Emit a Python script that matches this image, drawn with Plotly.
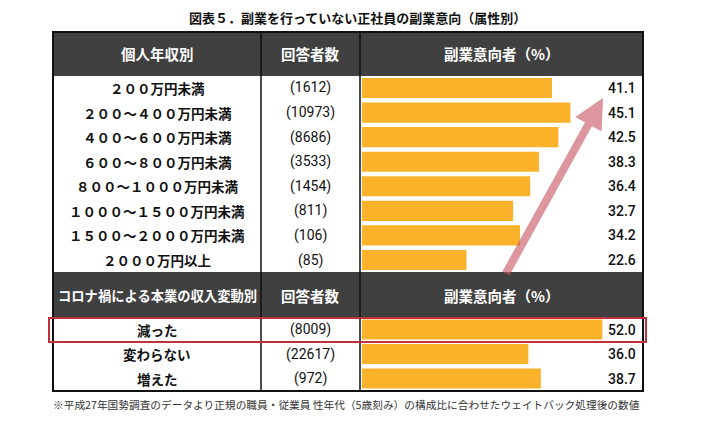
import plotly.graph_objects as go

W, H = 714, 421
FONT = "Noto Sans CJK JP"
NUMFONT = "Roboto, Noto Sans CJK JP"

title = "図表５．副業を行っていない正社員の副業意向（属性別）"
header1 = ["個人年収別", "回答者数", "副業意向者（%）"]
header2 = ["コロナ禍による本業の収入変動別", "回答者数", "副業意向者（%）"]

income_labels = ["２００万円未満", "２００～４００万円未満", "４００～６００万円未満",
                 "６００～８００万円未満", "８００～１０００万円未満", "１０００～１５００万円未満",
                 "１５００～２０００万円未満", "２０００万円以上"]
income_counts = [1612, 10973, 8686, 3533, 1454, 811, 106, 85]
income_values = [41.1, 45.1, 42.5, 38.3, 36.4, 32.7, 34.2, 22.6]

corona_labels = ["減った", "変わらない", "増えた"]
corona_counts = [8009, 22617, 972]
corona_values = [52.0, 36.0, 38.7]

footnote = "※平成27年国勢調査のデータより正規の職員・従業員 性年代（5歳刻み）の構成比に合わせたウェイトバック処理後の数値"


def px(p):
    return p / W


def py(p):
    return 1 - p / H


L, C1, C2, R = 53, 261, 360, 643
BAR0 = 362
BAR_COLOR = "#FBB22B"

fig = go.Figure()
fig.add_trace(go.Bar(x=income_values, y=income_labels, orientation="h",
                     marker=dict(color=BAR_COLOR, line=dict(width=0)),
                     xaxis="x", yaxis="y", hoverinfo="skip", showlegend=False))
fig.add_trace(go.Bar(x=corona_values, y=corona_labels, orientation="h",
                     marker=dict(color=BAR_COLOR, line=dict(width=0)),
                     xaxis="x2", yaxis="y2", hoverinfo="skip", showlegend=False))

shapes = []
for top, bot in [(32, 76), (272, 317)]:
    shapes.append(dict(type="rect", xref="paper", yref="paper",
                       x0=px(L), x1=px(R), y0=py(bot), y1=py(top),
                       fillcolor="#404040", line=dict(width=0), layer="below"))
for xx in [C1, C2]:
    shapes.append(dict(type="line", xref="paper", yref="paper",
                       x0=px(xx), x1=px(xx), y0=py(391), y1=py(32),
                       line=dict(color="#111111", width=1.5)))
shapes.append(dict(type="rect", xref="paper", yref="paper",
                   x0=px(L), x1=px(R), y0=py(391), y1=py(32),
                   line=dict(color="#111111", width=2)))
shapes.append(dict(type="rect", xref="paper", yref="paper",
                   x0=px(49), x1=px(646), y0=py(342), y1=py(318),
                   line=dict(color="#C0313D", width=2)))

ann = []
ann.append(dict(text="<b>" + title + "</b>", x=px(357), y=py(17), xref="paper", yref="paper",
                showarrow=False, font=dict(size=13, color="#111111", family=FONT),
                xanchor="center", yanchor="middle"))
centers = [(L + C1) / 2, (C1 + C2) / 2, (C2 + R) / 2]
for hdr, yc in [(header1, 54), (header2, 295)]:
    for t, xc in zip(hdr, centers):
        size = 13.3 if len(t) > 10 else 14.5
        ann.append(dict(text="<b>" + t + "</b>", x=px(xc), y=py(yc), xref="paper", yref="paper",
                        showarrow=False, font=dict(size=size, color="white", family=FONT),
                        xanchor="center", yanchor="middle"))

for labels, counts, values, yref in [(income_labels, income_counts, income_values, "y"),
                                     (corona_labels, corona_counts, corona_values, "y2")]:
    for lab, cnt, val in zip(labels, counts, values):
        ann.append(dict(text="<b>" + lab + "</b>", x=px(centers[0]), y=lab, xref="paper", yref=yref,
                        showarrow=False, font=dict(size=13.5, color="#111111", family=FONT),
                        xanchor="center", yanchor="middle"))
        ann.append(dict(text="(" + str(cnt) + ")", x=px(centers[1]), y=lab, xref="paper", yref=yref,
                        showarrow=False, font=dict(size=14, color="#111111", family=NUMFONT),
                        xanchor="center", yanchor="middle"))
        ann.append(dict(text=f"{val:.1f}", x=px(638), y=lab, xref="paper", yref=yref,
                        showarrow=False, font=dict(size=14, color="#111111", family=NUMFONT,
                                                   weight=500),
                        xanchor="right", yanchor="middle"))

ann.append(dict(text="", x=px(603), y=py(98), xref="paper", yref="paper",
                ax=-98, ay=177, showarrow=True, arrowhead=2, arrowsize=0.75,
                arrowwidth=8, arrowcolor="rgba(200,80,95,0.6)", standoff=0, startstandoff=0))

ann.append(dict(text=footnote, x=px(51), y=py(404), xref="paper", yref="paper",
                showarrow=False, font=dict(size=10.7, color="#333333", family=FONT),
                xanchor="left", yanchor="middle"))

xr = [0, 60.8]
fig.update_layout(
    width=W, height=H,
    margin=dict(l=0, r=0, t=0, b=0),
    paper_bgcolor="white", plot_bgcolor="rgba(0,0,0,0)",
    bargap=0.18,
    font=dict(family=FONT),
    xaxis=dict(domain=[px(BAR0), px(R)], range=xr, visible=False, fixedrange=True),
    yaxis=dict(domain=[py(272.3), py(75.7)], range=[7.5, -0.5], visible=False,
               categoryorder="array", categoryarray=income_labels),
    xaxis2=dict(domain=[px(BAR0), px(R)], range=xr, visible=False, anchor="y2"),
    yaxis2=dict(domain=[py(390.8), py(317.3)], range=[2.5, -0.5], visible=False, anchor="x2",
                categoryorder="array", categoryarray=corona_labels),
    shapes=shapes,
    annotations=ann,
)

fig.write_html("out.html", config={"displayModeBar": False},
               post_script="document.body.style.margin='0';document.body.style.padding='0';")
